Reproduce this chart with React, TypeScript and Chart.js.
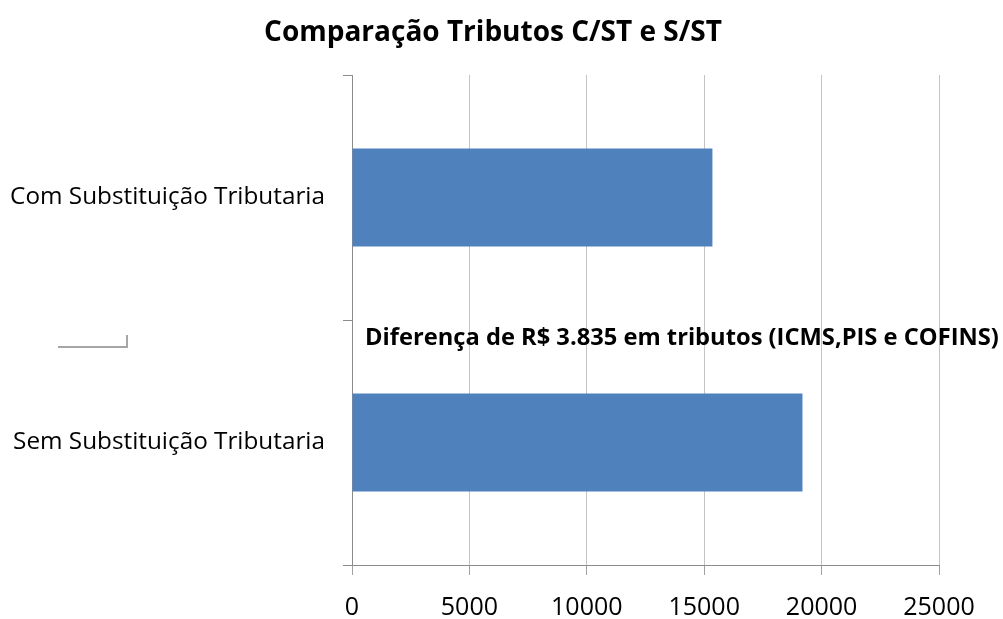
import React, { useEffect, useRef } from "react";
import { Chart, registerables } from "chart.js";

Chart.register(...registerables);

const categories = ["Com Substituição Tributaria", "Sem Substituição Tributaria"];
const values = [15350, 19185];
const xMin = 0;
const xMax = 25000;
const xStep = 5000;
const titleText = "Comparação Tributos C/ST e S/ST";
const noteText = "Diferença de R$ 3.835 em tributos (ICMS,PIS e COFINS)";

const FONT = "'Open Sans', 'DejaVu Sans', sans-serif";

const extras = {
  id: "extras",
  afterDraw(chart: any) {
    const ctx = chart.ctx;
    ctx.save();
    ctx.fillStyle = "#000";
    ctx.textBaseline = "middle";
    ctx.textAlign = "center";
    ctx.font = `bold 28px ${FONT}`;
    ctx.fillText(titleText, 493, 33);
    ctx.font = `bold 23.7px ${FONT}`;
    ctx.textAlign = "left";
    ctx.fillText(noteText, 365, 338);
    ctx.strokeStyle = "#a6a6a6";
    ctx.lineWidth = 2;
    ctx.beginPath();
    ctx.moveTo(58, 347);
    ctx.lineTo(127, 347);
    ctx.lineTo(127, 335);
    ctx.stroke();
    ctx.restore();
  },
};

export default function App() {
  const ref = useRef<HTMLCanvasElement>(null);
  useEffect(() => {
    document.body.style.margin = "0";
    const chart = new Chart(ref.current!, {
      type: "bar",
      data: {
        labels: categories,
        datasets: [
          {
            data: values,
            backgroundColor: "#4F81BD",
            borderWidth: 0,
            barPercentage: 0.4,
            categoryPercentage: 1,
          },
        ],
      },
      options: {
        indexAxis: "y",
        animation: false,
        responsive: false,
        layout: { padding: { left: 0, right: 64, top: 75, bottom: 0 } },
        plugins: {
          legend: { display: false },
          tooltip: { enabled: false },
          title: { display: false },
        },
        scales: {
          x: {
            min: xMin,
            max: xMax,
            ticks: {
              stepSize: xStep,
              color: "#000",
              font: { family: FONT, size: 25 },
              padding: 18,
              maxRotation: 0,
              callback: (v: any) => String(v),
            },
            grid: { color: "#c4c4c4", tickColor: "#a0a0a0", tickLength: 10, lineWidth: 1 },
            border: { color: "#8c8c8c" },
            afterFit: (s: any) => {
              s.height = 54;
            },
          },
          y: {
            offset: true,
            ticks: {
              color: "#000",
              font: { family: FONT, size: 24.3 },
              padding: 18,
            },
            grid: {
              offset: true,
              drawOnChartArea: false,
              drawTicks: true,
              tickLength: 9,
              tickColor: "#8c8c8c",
            },
            border: { color: "#8c8c8c" },
            afterFit: (s: any) => {
              s.width = 352;
            },
          },
        },
      },
      plugins: [extras],
    });
    return () => chart.destroy();
  }, []);
  return (
    <div style={{ position: "fixed", left: 0, top: 0, width: 1003, height: 619, background: "#fff" }}>
      <canvas ref={ref} width={1003} height={619} />
    </div>
  );
}
